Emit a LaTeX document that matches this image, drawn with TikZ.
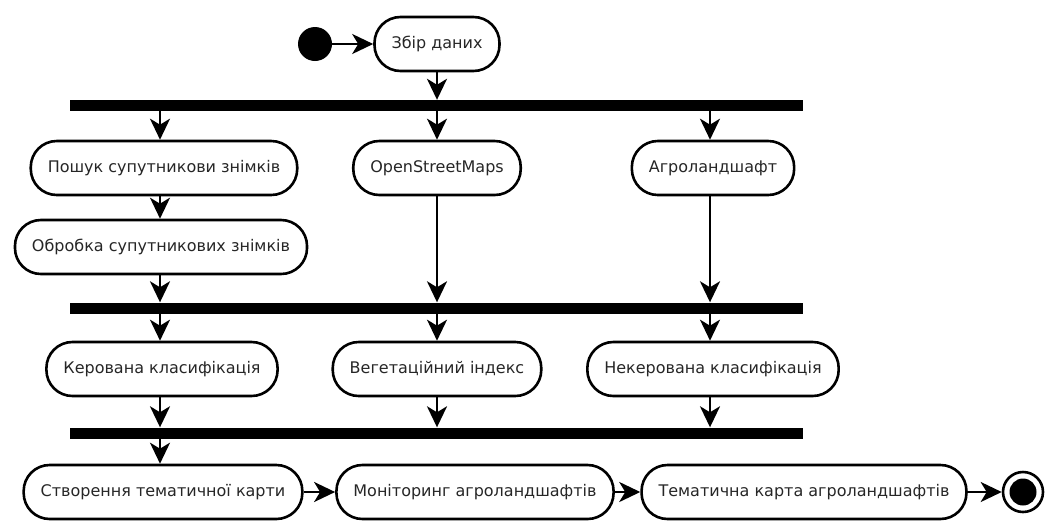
\documentclass[tikz,border=0pt]{standalone}
\usepackage{fontspec}
\setmainfont{DejaVu Sans}
\usetikzlibrary{arrows.meta}
\begin{document}
\begin{tikzpicture}[x=1pt,y=-1pt,
  act/.style={draw, line width=2.6pt, rounded corners=26pt, minimum height=54pt, inner xsep=17pt, font=\fontsize{16}{18}\selectfont, text=black!85},
  bar/.style={fill=black, minimum width=733pt, minimum height=11pt, inner sep=0pt},
  arr/.style={line width=2.6pt, -{Stealth[length=21pt,width=20pt,inset=6pt]}},
  startnode/.style={circle, fill=black, minimum size=34pt, inner sep=0pt},
]
\useasboundingbox (0,0) rectangle (1046,520);
% column guides
\coordinate (c1) at (160,0);
\coordinate (c2) at (437,0);
\coordinate (c3) at (710,0);
% nodes
\node[startnode] (start) at (315,44) {};
\node[act] (zbir) at (437,44) {Збір даних};
\node[bar] (bar1) at (436.5,105.5) {};
\node[act] (poshuk) at (164,168) {Пошук супутникови знімків};
\node[act] (osm) at (437,168) {OpenStreetMaps};
\node[act] (agro) at (713,168) {Агроландшафт};
\node[act] (obrobka) at (161,247) {Обробка супутникових знімків};
\node[bar] (bar2) at (436.5,308) {};
\node[act] (kerov) at (162,369) {Керована класифікація};
\node[act] (veget) at (437,369) {Вегетаційний індекс};
\node[act] (nekerov) at (713,369) {Некерована класифікація};
\node[bar] (bar3) at (436.5,433) {};
\node[act] (stvor) at (163,492) {Створення тематичної карти};
\node[act] (monit) at (475,492) {Моніторинг агроландшафтів};
\node[act] (temat) at (804,492) {Тематична карта агроландшафтів};
\node[circle, draw, line width=2.6pt, minimum size=40pt, inner sep=0pt] (end) at (1023,492) {};
\node[circle, fill=black, minimum size=27pt, inner sep=0pt] (endin) at (end.center) {};
% connectors
\draw[arr] (start) -- (zbir);
\draw[arr] (zbir.south -| c2) -- (bar1.north -| c2);
\draw[arr] (bar1.south -| c1) -- (poshuk.north -| c1);
\draw[arr] (bar1.south -| c2) -- (osm.north -| c2);
\draw[arr] (bar1.south -| c3) -- (agro.north -| c3);
\draw[arr] (poshuk.south -| c1) -- (obrobka.north -| c1);
\draw[arr] (obrobka.south -| c1) -- (bar2.north -| c1);
\draw[arr] (osm.south -| c2) -- (bar2.north -| c2);
\draw[arr] (agro.south -| c3) -- (bar2.north -| c3);
\draw[arr] (bar2.south -| c1) -- (kerov.north -| c1);
\draw[arr] (bar2.south -| c2) -- (veget.north -| c2);
\draw[arr] (bar2.south -| c3) -- (nekerov.north -| c3);
\draw[arr] (kerov.south -| c1) -- (bar3.north -| c1);
\draw[arr] (veget.south -| c2) -- (bar3.north -| c2);
\draw[arr] (nekerov.south -| c3) -- (bar3.north -| c3);
\draw[arr] (bar3.south -| c1) -- (stvor.north -| c1);
\draw[arr] (stvor) -- (monit);
\draw[arr] (monit) -- (temat);
\draw[arr] (temat) -- (end);
\end{tikzpicture}
\end{document}
